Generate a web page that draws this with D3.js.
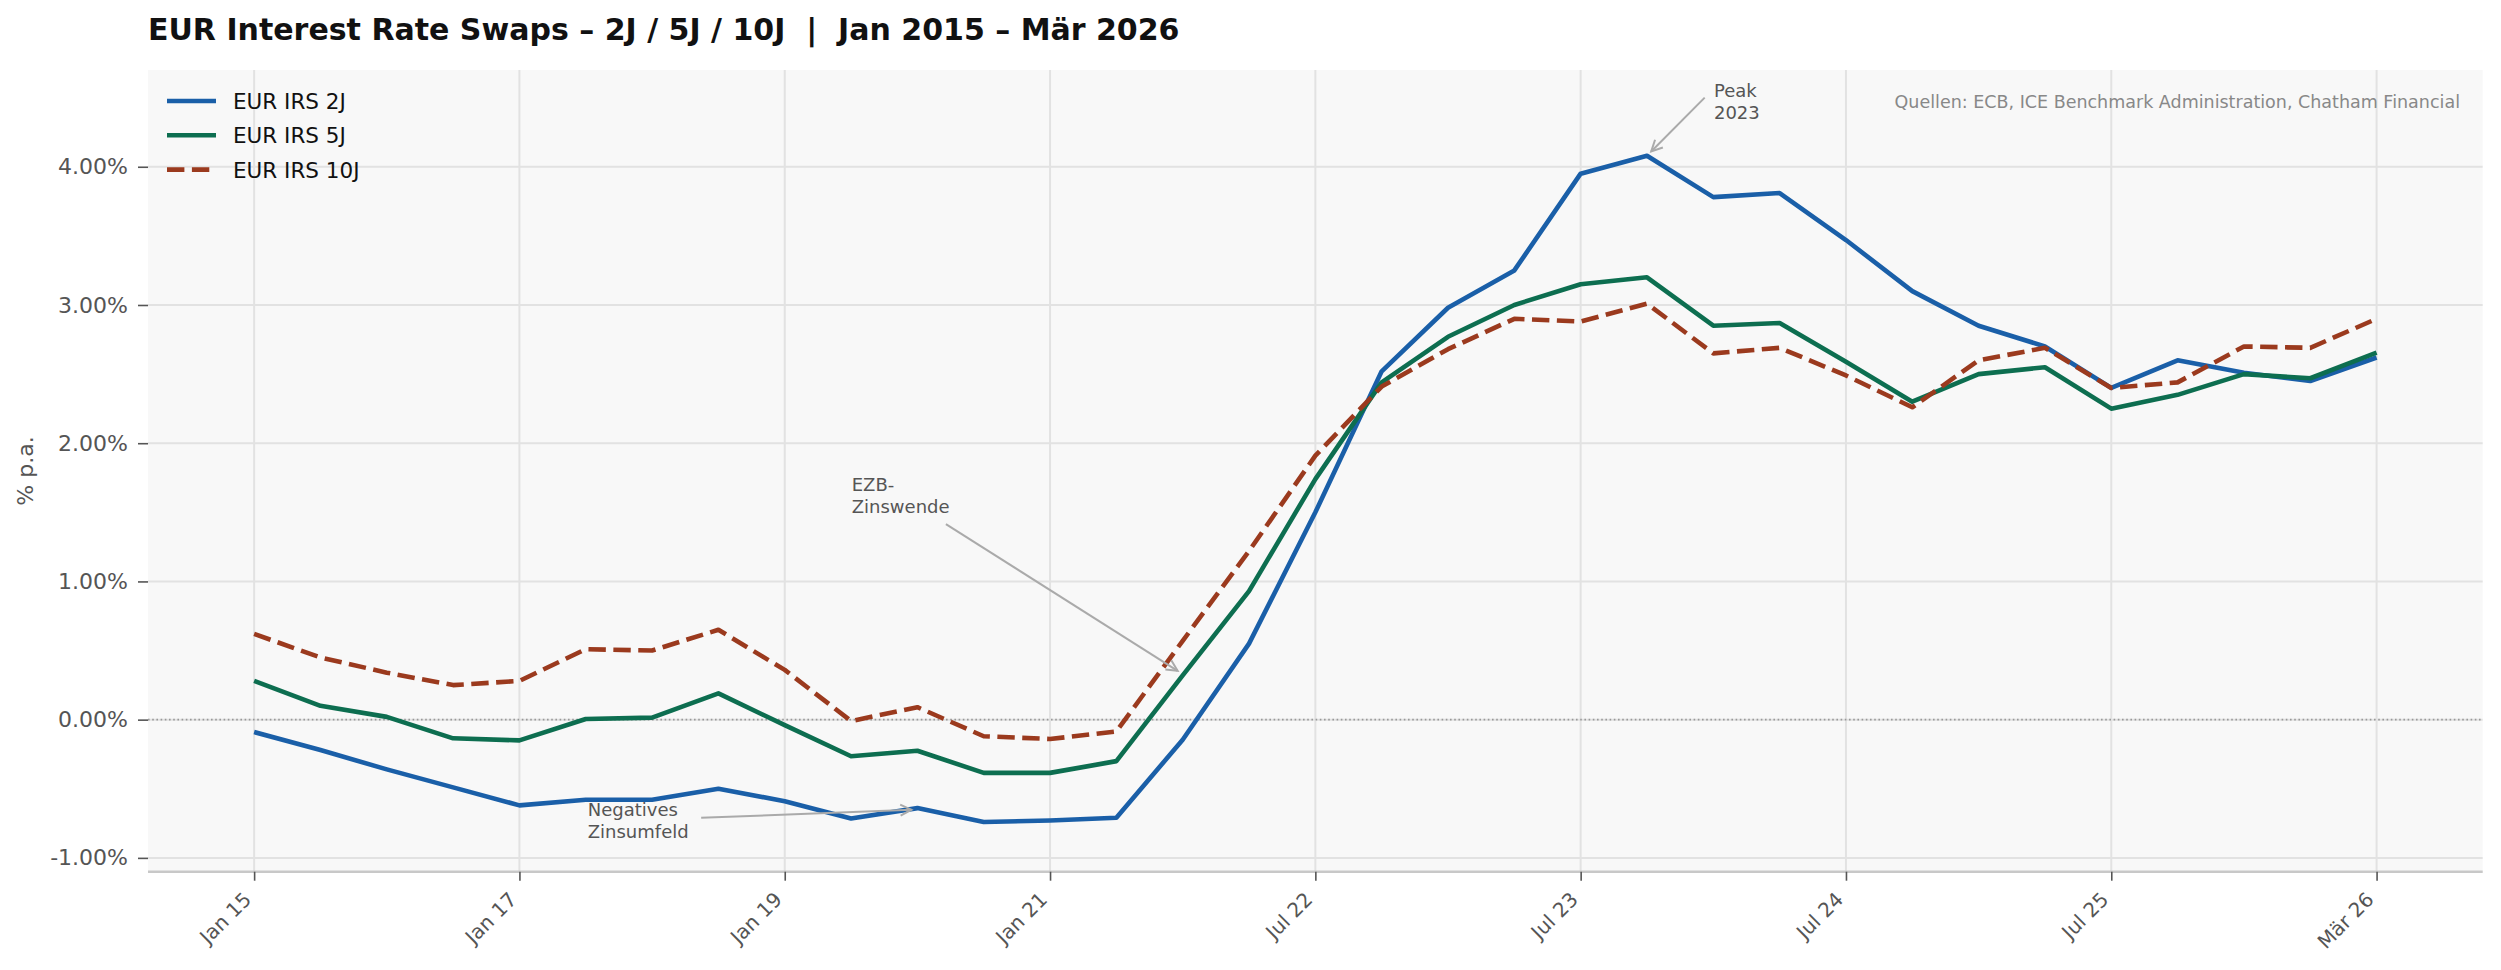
<!DOCTYPE html>
<html>
<head>
<meta charset="utf-8">
<script src="https://cdn.jsdelivr.net/npm/d3@7"></script>
<style>
  body { margin: 0; background: #fff; }
  text { font-family: "DejaVu Sans", sans-serif; white-space: pre; }
</style>
</head>
<body>
<svg id="chart" width="2501" height="970"></svg>
<script>
// Stichtage (x-Kategorien)
const dates = ["Jan 15","Jul 15","Jan 16","Jul 16","Jan 17","Jul 17","Jan 18","Jul 18",
  "Jan 19","Jul 19","Jan 20","Jul 20","Jan 21","Jul 21","Jan 22","Apr 22","Jul 22",
  "Okt 22","Jan 23","Apr 23","Jul 23","Okt 23","Jan 24","Apr 24","Jul 24","Okt 24",
  "Jan 25","Apr 25","Jul 25","Sep 25","Nov 25","Jan 26","Mär 26"];

// Swapsätze in % p.a.
const irs2J = [-0.09,-0.22,-0.36,-0.49,-0.62,-0.58,-0.58,-0.50,-0.59,-0.715,-0.64,-0.74,-0.73,-0.71,
  -0.145,0.55,1.50,2.52,2.98,3.25,3.95,4.08,3.78,3.81,3.47,3.10,2.85,2.70,2.40,2.60,2.51,2.45,2.62];
const irs5J = [0.28,0.10,0.02,-0.135,-0.15,0.005,0.015,0.19,-0.04,-0.265,-0.225,-0.385,-0.385,-0.30,
  0.32,0.93,1.74,2.44,2.77,3.00,3.15,3.20,2.85,2.87,2.59,2.30,2.50,2.55,2.25,2.35,2.50,2.47,2.655];
const irs10J = [0.62,0.45,0.34,0.25,0.28,0.51,0.50,0.65,0.36,-0.01,0.09,-0.12,-0.14,-0.085,
  0.57,1.22,1.91,2.41,2.68,2.90,2.88,3.01,2.65,2.69,2.49,2.26,2.60,2.69,2.40,2.44,2.70,2.69,2.90];

const seriesNames = ["EUR IRS 2J", "EUR IRS 5J", "EUR IRS 10J"];
const xTickIdx = [0, 4, 8, 12, 16, 20, 24, 28, 32];
const yTicks = [-1, 0, 1, 2, 3, 4];

const series = [
  { name: seriesNames[0], values: irs2J, color: "#1a5fa8", dash: null },
  { name: seriesNames[1], values: irs5J, color: "#0d6e50", dash: null },
  { name: seriesNames[2], values: irs10J, color: "#9b3a1e", dash: "17.4,7.5" }
];

const annotations = [
  { lines: ["Peak", "2023"], xy: [21, 4.08], text: [22.01, 4.507], from: [21.87, 4.50] },
  { lines: ["EZB-", "Zinswende"], xy: [14, 0.33], text: [9.01, 1.656], from: [10.43, 1.415] },
  { lines: ["Negatives", "Zinsumfeld"], xy: [10, -0.65], text: [5.03, -0.698], from: [6.74, -0.71] }
];

const svg = d3.select("#chart");
const margin = { top: 70, right: 18.3, bottom: 98.3, left: 148 };
const width = 2501;
const height = 970;

svg.append("rect").attr("width", width).attr("height", height).attr("fill", "#fff");

const x = d3.scaleLinear()
  .domain([-1.6, dates.length - 1 + 1.6])
  .range([margin.left, width - margin.right]);
const y = d3.scaleLinear()
  .domain([-1.1, 4.7])
  .range([height - margin.bottom, margin.top]);

// plot background
svg.append("rect")
  .attr("x", margin.left).attr("y", margin.top)
  .attr("width", width - margin.right - margin.left)
  .attr("height", height - margin.bottom - margin.top)
  .attr("fill", "#f8f8f8");

// grid
svg.append("g").selectAll("line").data(xTickIdx).join("line")
  .attr("x1", d => x(d)).attr("x2", d => x(d))
  .attr("y1", margin.top).attr("y2", height - margin.bottom)
  .attr("stroke", "#e2e2e2").attr("stroke-width", 2);
svg.append("g").selectAll("line").data(yTicks).join("line")
  .attr("x1", margin.left).attr("x2", width - margin.right)
  .attr("y1", d => y(d)).attr("y2", d => y(d))
  .attr("stroke", "#e2e2e2").attr("stroke-width", 2);

// zero line
svg.append("line")
  .attr("x1", margin.left).attr("x2", width - margin.right)
  .attr("y1", y(0)).attr("y2", y(0))
  .attr("stroke", "#999").attr("stroke-width", 1.6)
  .attr("stroke-dasharray", "1.6,2.6");

// axes
const xAxis = svg.append("g")
  .attr("transform", `translate(0, ${height - margin.bottom})`)
  .call(d3.axisBottom(x).tickValues(xTickIdx).tickFormat(d => dates[d]).tickSize(9).tickPadding(6));
xAxis.select(".domain").attr("stroke", "#c8c8c8").attr("stroke-width", 2.5)
  .attr("d", `M${margin.left},0H${width - margin.right}`);
xAxis.selectAll(".tick line").attr("stroke", "#555").attr("stroke-width", 1.6);
xAxis.selectAll(".tick text")
  .attr("font-size", 20).attr("fill", "#555")
  .attr("text-anchor", "end")
  .attr("dy", null).attr("y", 0)
  .attr("transform", "translate(-2, 29) rotate(-45)");

const yAxis = svg.append("g")
  .attr("transform", `translate(${margin.left}, 0)`)
  .call(d3.axisLeft(y).tickValues(yTicks).tickFormat(d => d.toFixed(2) + "%").tickSize(10).tickPadding(10));
yAxis.select(".domain").remove();
yAxis.selectAll(".tick line").attr("stroke", "#555").attr("stroke-width", 1.6);
yAxis.selectAll(".tick text").attr("font-size", 22).attr("fill", "#555");

svg.append("text")
  .attr("transform", `translate(33, 471) rotate(-90)`)
  .attr("text-anchor", "middle")
  .attr("font-size", 22).attr("fill", "#555")
  .text("% p.a.");

// lines
const line = d3.line().x((d, i) => x(i)).y(d => y(d));
series.forEach(s => {
  svg.append("path")
    .datum(s.values)
    .attr("fill", "none")
    .attr("stroke", s.color)
    .attr("stroke-width", 4.6)
    .attr("stroke-linejoin", "round")
    .attr("stroke-dasharray", s.dash)
    .attr("d", line);
});

// annotations
annotations.forEach(a => {
  const x0 = x(a.from[0]), y0 = y(a.from[1]);
  let x1 = x(a.xy[0]), y1 = y(a.xy[1]);
  const dx = x1 - x0, dy = y1 - y0, len = Math.hypot(dx, dy);
  const ux = dx / len, uy = dy / len;
  x1 -= ux * 6; y1 -= uy * 6;
  const hl = 11, hw = 5.5;
  svg.append("line")
    .attr("x1", x0).attr("y1", y0).attr("x2", x1).attr("y2", y1)
    .attr("stroke", "#aaa").attr("stroke-width", 2);
  svg.append("path")
    .attr("d", `M${x1 - ux * hl - uy * hw},${y1 - uy * hl + ux * hw}L${x1},${y1}L${x1 - ux * hl + uy * hw},${y1 - uy * hl - ux * hw}`)
    .attr("fill", "none").attr("stroke", "#aaa").attr("stroke-width", 2);
  const t = svg.append("text")
    .attr("x", x(a.text[0])).attr("y", y(a.text[1]))
    .attr("font-size", 18).attr("fill", "#555");
  a.lines.forEach((l, i) => {
    t.append("tspan").attr("x", x(a.text[0])).attr("dy", i === 0 ? 0 : 22).text(l);
  });
});

// legend
const legend = svg.append("g").attr("transform", "translate(167, 101)");
series.forEach((s, i) => {
  legend.append("line")
    .attr("x1", 0).attr("x2", 49)
    .attr("y1", i * 34.3).attr("y2", i * 34.3)
    .attr("stroke", s.color).attr("stroke-width", 4.6)
    .attr("stroke-dasharray", s.dash);
  legend.append("text")
    .attr("x", 66).attr("y", i * 34.3 + 8)
    .attr("font-size", 21.5).attr("fill", "#111")
    .text(s.name);
});

// source
svg.append("text")
  .attr("x", 2460).attr("y", 108)
  .attr("text-anchor", "end")
  .attr("font-size", 17.5).attr("fill", "#888")
  .text("Quellen: ECB, ICE Benchmark Administration, Chatham Financial");

// title
svg.append("text")
  .attr("x", 148).attr("y", 40)
  .attr("font-size", 30).attr("font-weight", "bold").attr("fill", "#111")
  .text("EUR Interest Rate Swaps – 2J / 5J / 10J  |  Jan 2015 – Mär 2026");
</script>
</body>
</html>
